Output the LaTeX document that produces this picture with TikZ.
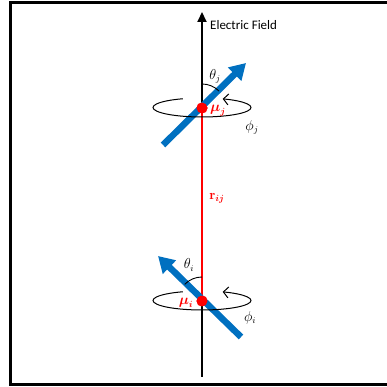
\documentclass[tikz,border=0pt]{standalone}
\usepackage{amsmath}
\usepackage{fontspec}
\newfontfamily\calib{Carlito}
\usetikzlibrary{arrows.meta}
\definecolor{dipblue}{RGB}{0,112,192}
\begin{document}
\begin{tikzpicture}[x=1pt,y=1pt,
  axisline/.style={line width=2pt,black},
  bondline/.style={line width=2pt,red},
  dipole/.style={line width=6.5pt,dipblue,-{Triangle[length=16pt,width=18pt]}},
  spin/.style={line width=1pt,black,-{Straight Barb[length=5pt,width=11pt]}},
  anglearc/.style={line width=0.9pt,black},
  lbl/.style={inner sep=0pt,font=\fontsize{13.5}{16}\selectfont},
  dot/.style={circle,fill=red,inner sep=0pt,minimum size=11pt}]
\useasboundingbox (0,0) rectangle (386,387);
\draw[line width=3pt] (400,384) -- (10,384) -- (10,2) -- (400,2);
% axis points
\coordinate (top) at (202,375);
\coordinate (bot) at (202,10);
\node[dot] (muj) at (202,279) {};
\node[dot] (mui) at (202,86) {};
\draw[axisline,-{Triangle[length=10pt,width=9pt]}] (muj.center) -- (top);
\draw[axisline] (mui.center) -- (bot);
\draw[bondline] (muj.center) -- (mui.center);
% dipoles
\coordinate (jtail) at (163,242);
\coordinate (jtip) at (246,324);
\coordinate (itail) at (241,50);
\coordinate (itip) at (158,131);
\draw[dipole] (jtail) -- (jtip);
\draw[dipole] (itail) -- (itip);
% precession ellipses
\draw[spin] ([shift={(113:49pt and 9.5pt)}]202,279.5) arc[start angle=113,end angle=425,x radius=49,y radius=9.5];
\draw[spin] ([shift={(113:49pt and 9.5pt)}]202,86.5) arc[start angle=113,end angle=425,x radius=49,y radius=9.5];
% angle arcs
\draw[anglearc] ([shift={(90:24pt)}]muj.center) arc[start angle=90,end angle=45,radius=24];
\draw[anglearc] ([shift={(90:24pt)}]mui.center) arc[start angle=90,end angle=136,radius=24];
\node[dot] at (muj.center) {};
\node[dot] at (mui.center) {};
% labels
\node[lbl,anchor=west,font=\calib\fontsize{13}{15}\selectfont] (ef) at (210,362) {Electric Field};
\node[lbl] (thj) at (215,311) {$\theta_j$};
\node[lbl,text=red] (muj-l) at (218,276) {$\boldsymbol{\mu}_{\boldsymbol{j}}$};
\node[lbl] (phj) at (252,260) {$\phi_j$};
\node[lbl] (thi) at (189,122) {$\theta_i$};
\node[lbl,text=red] (mui-l) at (186,84) {$\boldsymbol{\mu}_{\boldsymbol{i}}$};
\node[lbl] (phi) at (250,69) {$\phi_i$};
\node[lbl,text=red] (rij) at (217,189) {$\mathbf{r}_{\boldsymbol{ij}}$};
\end{tikzpicture}
\end{document}
